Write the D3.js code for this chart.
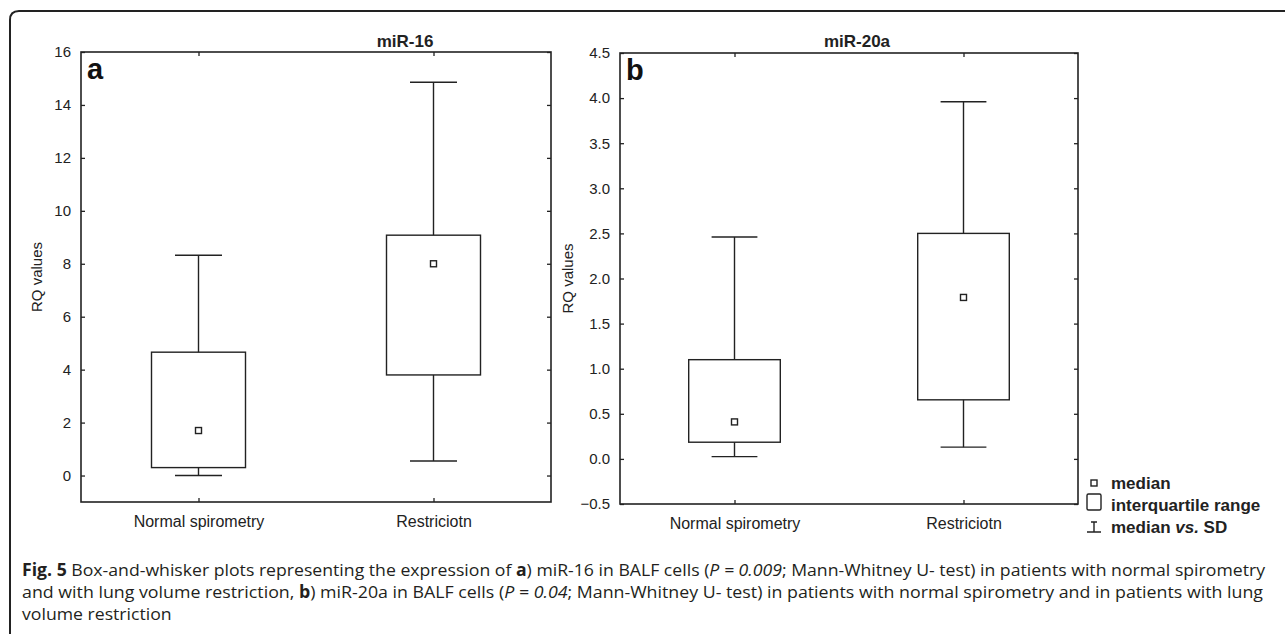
<!DOCTYPE html>
<html>
<head>
<meta charset="utf-8">
<script src="https://cdn.jsdelivr.net/npm/d3@7"></script>
<style>
  body { margin: 0; background: #fff; }
  svg { display: block; }
</style>
</head>
<body>
<svg id="fig" width="1285" height="634"></svg>
<script>
// data
const groups = ["Normal spirometry", "Restriciotn"];

const mir16Low = [0, 0.55];
const mir16Q1 = [0.3, 3.8];
const mir16Median = [1.7, 8.0];
const mir16Q3 = [4.66, 9.08];
const mir16High = [8.32, 14.86];
const mir16Ticks = [0, 2, 4, 6, 8, 10, 12, 14, 16];

const mir20aLow = [0.025, 0.13];
const mir20aQ1 = [0.185, 0.655];
const mir20aMedian = [0.41, 1.79];
const mir20aQ3 = [1.1, 2.5];
const mir20aHigh = [2.46, 3.96];
const mir20aTicks = [-0.5, 0, 0.5, 1, 1.5, 2, 2.5, 3, 3.5, 4, 4.5];

const legendItems = ["median", "interquartile range", "median vs. SD"];

const ink = "#222";
const sans = "Liberation Sans, Arial, sans-serif";
const svg = d3.select("#fig");

// outer frame, only top-left corner visible
svg.append("path")
    .attr("d", "M1290,11 H19 Q10,11 10,20 V640")
    .attr("fill", "none")
    .attr("stroke", ink)
    .attr("stroke-width", 2);

function boxPanel(opts) {
    const { left, right, top, bottom, domain, ticks, fmt } = opts;
    const g = svg.append("g");

    const x = d3.scalePoint().domain(groups).range([left, right]).padding(0.5);
    const y = d3.scaleLinear().domain(domain).range([bottom, top]);

    const rows = groups.map((name, i) => ({
        name: name,
        low: opts.low[i], q1: opts.q1[i], med: opts.median[i],
        q3: opts.q3[i], high: opts.high[i],
    }));

    // axes, ticks pointing inward
    const yl = g.append("g").attr("transform", `translate(${left},0)`)
        .call(d3.axisLeft(y).tickValues(ticks).tickFormat(fmt).tickSize(-4).tickPadding(10));
    const yr = g.append("g").attr("transform", `translate(${right},0)`)
        .call(d3.axisRight(y).tickValues(ticks).tickFormat("").tickSize(-4));
    const xb = g.append("g").attr("transform", `translate(0,${bottom})`)
        .call(d3.axisBottom(x).tickSize(-4).tickPadding(14));
    const xt = g.append("g").attr("transform", `translate(0,${top})`)
        .call(d3.axisTop(x).tickFormat("").tickSize(-4));

    [yl, yr, xb, xt].forEach((a) => {
        a.select(".domain").remove();
        a.selectAll("line").attr("stroke", ink).attr("stroke-width", 1.3);
        a.selectAll("text")
            .attr("fill", ink)
            .style("font-family", sans)
            .style("font-size", "15px");
    });
    xb.selectAll("text").style("font-size", "16px");

    g.append("rect")
        .attr("x", left).attr("y", top)
        .attr("width", right - left).attr("height", bottom - top)
        .attr("fill", "none").attr("stroke", ink).attr("stroke-width", 1.6);

    const boxW = (right - left) * 0.2;
    const capW = boxW / 2;

    const b = g.selectAll(".box").data(rows).enter().append("g").attr("class", "box");
    b.append("line")
        .attr("x1", (d) => x(d.name)).attr("x2", (d) => x(d.name))
        .attr("y1", (d) => y(d.q3)).attr("y2", (d) => y(d.high));
    b.append("line")
        .attr("x1", (d) => x(d.name)).attr("x2", (d) => x(d.name))
        .attr("y1", (d) => y(d.q1)).attr("y2", (d) => y(d.low));
    b.append("line")
        .attr("x1", (d) => x(d.name) - capW / 2).attr("x2", (d) => x(d.name) + capW / 2)
        .attr("y1", (d) => y(d.high)).attr("y2", (d) => y(d.high));
    b.append("line")
        .attr("x1", (d) => x(d.name) - capW / 2).attr("x2", (d) => x(d.name) + capW / 2)
        .attr("y1", (d) => y(d.low)).attr("y2", (d) => y(d.low));
    b.append("rect")
        .attr("x", (d) => x(d.name) - boxW / 2)
        .attr("y", (d) => y(d.q3))
        .attr("width", boxW)
        .attr("height", (d) => y(d.q1) - y(d.q3))
        .attr("fill", "none");
    b.append("rect")
        .attr("x", (d) => x(d.name) - 3)
        .attr("y", (d) => y(d.med) - 3)
        .attr("width", 6).attr("height", 6)
        .attr("fill", "#fff");
    b.selectAll("line, rect").attr("stroke", ink).attr("stroke-width", 1.4);

    // title, panel letter, y label
    g.append("text")
        .attr("x", opts.titleX).attr("y", 47)
        .attr("text-anchor", "middle")
        .style("font-family", sans)
        .style("font-size", "17px").style("font-weight", "bold")
        .attr("fill", ink)
        .text(opts.title);
    g.append("text")
        .attr("x", left + 6).attr("y", top + 27)
        .style("font-family", sans)
        .style("font-size", "29px").style("font-weight", "bold")
        .attr("fill", "#111")
        .text(opts.letter);
    g.append("text")
        .attr("transform", `translate(${opts.labelX},${(top + bottom) / 2}) rotate(-90)`)
        .attr("text-anchor", "middle")
        .style("font-family", sans)
        .style("font-size", "15px")
        .attr("fill", ink)
        .text("RQ values");
}

boxPanel({
    left: 81, right: 551, top: 52, bottom: 502,
    domain: [-1, 16], ticks: mir16Ticks, fmt: d3.format("d"),
    low: mir16Low, q1: mir16Q1, median: mir16Median, q3: mir16Q3, high: mir16High,
    title: "miR-16", titleX: 405, letter: "a", labelX: 42,
});

boxPanel({
    left: 620, right: 1078, top: 53, bottom: 504,
    domain: [-0.5, 4.5], ticks: mir20aTicks, fmt: d3.format(".1f"),
    low: mir20aLow, q1: mir20aQ1, median: mir20aMedian, q3: mir20aQ3, high: mir20aHigh,
    title: "miR-20a", titleX: 857, letter: "b", labelX: 573,
});

// legend
const lg = svg.append("g").attr("transform", "translate(1094,0)");
const legY = [483, 505, 527];
lg.append("rect").attr("x", -3).attr("y", legY[0] - 3).attr("width", 6).attr("height", 6)
    .attr("fill", "#fff").attr("stroke", ink).attr("stroke-width", 1.4);
lg.append("rect").attr("x", -7).attr("y", legY[1] - 11).attr("width", 14).attr("height", 16)
    .attr("rx", 1.5)
    .attr("fill", "#fff").attr("stroke", ink).attr("stroke-width", 1.4);
lg.append("path")
    .attr("d", `M-3,${legY[2] - 5} H3 M0,${legY[2] - 5} V${legY[2] + 5} M-7,${legY[2] + 5} H7`)
    .attr("fill", "none").attr("stroke", ink).attr("stroke-width", 1.4);
const lt = lg.selectAll(".lt").data(legendItems).enter().append("text")
    .attr("class", "lt")
    .attr("x", 17).attr("y", (d, i) => legY[i] + 6)
    .style("font-family", sans)
    .style("font-size", "17px").style("font-weight", "bold")
    .attr("fill", ink);
lt.each(function (d) {
    const t = d3.select(this);
    if (d.indexOf(" vs. ") > 0) {
        t.append("tspan").text("median ");
        t.append("tspan").style("font-style", "italic").text("vs.");
        t.append("tspan").text(" SD");
    } else {
        t.text(d);
    }
});

// caption
const capLines = [
    [["b", "Fig. 5"], ["", " Box-and-whisker plots representing the expression of "], ["b", "a"],
     ["", ") miR-16 in BALF cells ("], ["i", "P = 0.009"], ["", "; Mann-Whitney U- test) in patients with normal spirometry"]],
    [["", "and with lung volume restriction, "], ["b", "b"], ["", ") miR-20a in BALF cells ("],
     ["i", "P = 0.04"], ["", "; Mann-Whitney U- test) in patients with normal spirometry and in patients with lung"]],
    [["", "volume restriction"]],
];
const capWidths = [1243, 1241, null];
const cap = svg.append("g");
const capNodes = capLines.map((parts, i) => {
    const t = cap.append("text")
        .attr("x", 22).attr("y", 576 + i * 22)
        .style("font-family", "Open Sans, sans-serif")
        .style("font-size", "17px")
        .attr("fill", "#231f20");
    parts.forEach((p) => {
        const s = t.append("tspan").text(p[1]);
        if (p[0] === "b") s.style("font-weight", "bold");
        if (p[0] === "i") s.style("font-style", "italic");
    });
    return t;
});
// squeeze the justified lines, and the last line by the same ratio
const ratio = capWidths[0] / capNodes[0].node().getComputedTextLength();
capNodes.forEach((t, i) => {
    const w = capWidths[i] || t.node().getComputedTextLength() * ratio;
    t.attr("textLength", w).attr("lengthAdjust", "spacingAndGlyphs");
});
</script>
</body>
</html>
